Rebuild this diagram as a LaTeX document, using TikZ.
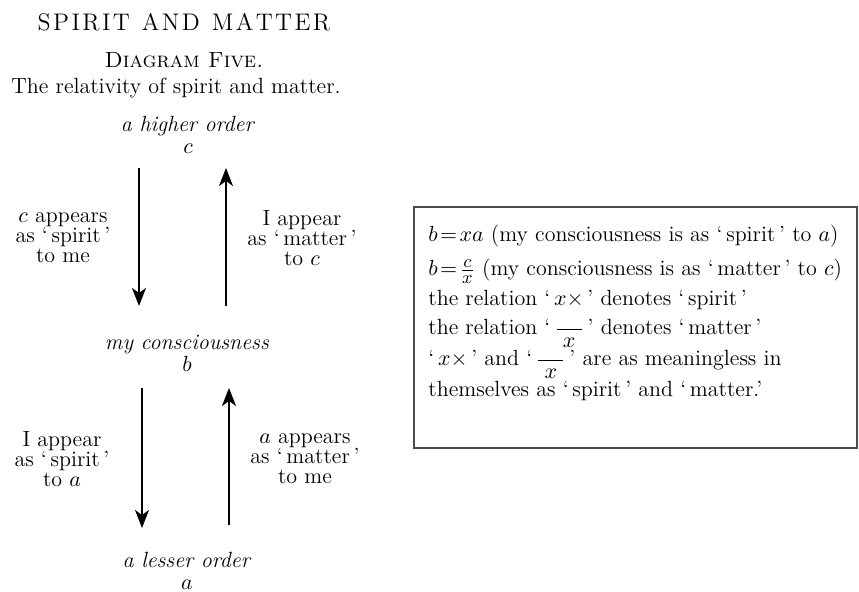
\documentclass[tikz,border=0pt]{standalone}
\usepackage{fontspec}
\usepackage{amsmath}
\usetikzlibrary{arrows.meta}

\tikzset{
  lbl/.style={align=center, inner sep=0pt},
  arr/.style={line width=1.2pt, -{Stealth[length=9pt,width=7pt,inset=2.5pt]}},
  eq/.style={anchor=base west, inner sep=0pt},
}
\newcommand{\overx}{\smash{\dfrac{\hphantom{xx}}{\raisebox{1.5pt}{$x$}}}}
\newcommand{\midsize}[1]{\mbox{\fontsize{9.5}{11}\selectfont$#1$}}

\begin{document}
\begin{tikzpicture}[x=0.5pt,y=-0.5pt,font=\fontsize{11}{13}\selectfont]
\useasboundingbox (0,0) rectangle (859,592);
% headings
\path (184,22) node (title) {\fontsize{12}{14}\selectfont S\kern1.2pt P\kern1.2pt I\kern1.2pt R\kern1.2pt I\kern1.2pt T\hspace{6pt}A\kern1.2pt N\kern1.2pt D\hspace{6pt}M\kern1.2pt A\kern1.2pt T\kern1.2pt T\kern1.2pt E\kern1.2pt R};
\path (184,60) node (diag) {\textsc{Diagram Five.}};
\path (176,88) node (sub) {The relativity of spirit and matter.};

% the three levels
\path (188,135) node[lbl] (higher) {\textit{a higher order}\\[-2pt]$c$};
\path (187,353) node[lbl] (mine) {\textit{my consciousness}\\[-2pt]$b$};
\path (187,571) node[lbl] (lesser) {\textit{a lesser order}\\[-2pt]$a$};

% arrow ends
\coordinate (ul1) at (139,168);
\coordinate (ul2) at (139,306);
\coordinate (ur1) at (226,306);
\coordinate (ur2) at (226,168);
\coordinate (ll1) at (142,388);
\coordinate (ll2) at (142,528);
\coordinate (lr1) at (229,525);
\coordinate (lr2) at (229,388);
\draw[arr] (ul1) -- (ul2);
\draw[arr] (ur1) -- (ur2);
\draw[arr] (ll1) -- (ll2);
\draw[arr] (lr1) -- (lr2);

% side texts
\path (63,238) node[lbl] (cspirit) {$c$ appears\\[-3pt] as `\,spirit\,'\\[-3pt] to me};
\path (302,238) node[lbl] (imatter) {I appear\\[-3pt] as `\,matter\,'\\[-3pt] to $c$};
\path (62,459) node[lbl] (ispirit) {I appear\\[-3pt] as `\,spirit\,'\\[-3pt] to $a$};
\path (305,459) node[lbl] (amatter) {$a$ appears\\[-3pt] as `\,matter\,'\\[-3pt] to me};

% the box
\draw[black!70, line width=0.8pt] (414,207) rectangle (857,448);
\path (428,242) node[eq] (eqa) {$b\!=\!xa$ (my consciousness is as `\,spirit\,' to $a$)};
\path (428,276) node[eq] (eqb) {$b\!=\!\smash{\frac{\midsize{c}}{\midsize{x}}}$ (my consciousness is as `\,matter\,' to $c$)};
\path (428,306) node[eq] (rel1) {the relation `\,$x\times$\,' denotes `\,spirit\,'};
\path (428,335) node[eq] (rel2) {the relation `\,$\overx$\,' denotes `\,matter\,'};
\path (428,366) node[eq] (both) {`\,$x\times$\,' and `\,$\overx$\,' are as meaningless in};
\path (428,397) node[eq] (them) {themselves as `\,spirit\,' and `\,matter.'};
\end{tikzpicture}
\end{document}
